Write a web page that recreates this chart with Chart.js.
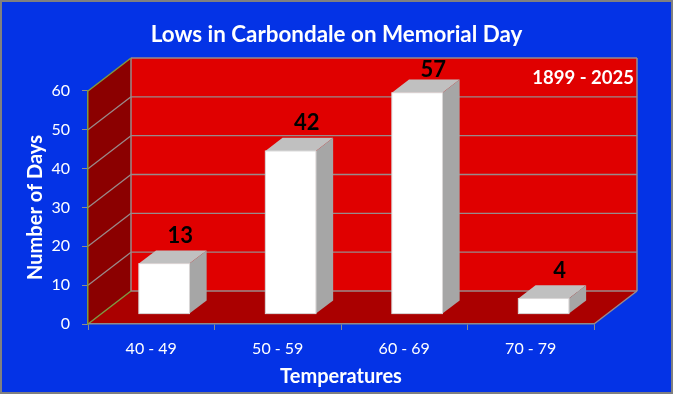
<!DOCTYPE html>
<html>
<head>
<meta charset="utf-8">
<script src="https://cdn.jsdelivr.net/npm/chart.js@4"></script>
<style>
	html, body { margin: 0; padding: 0; background: #0433e6; }
	canvas { display: block; }
</style>
</head>
<body>
<canvas id="myChartLows" width="673" height="394"></canvas>
<script>
// datos
const categories = ["40 - 49", "50 - 59", "60 - 69", "70 - 79"];
const days = [13, 42, 57, 4];
const yTicks = [0, 10, 20, 30, 40, 50, 60];
const period = "1899 - 2025";

const FONT = "Lato, 'Open Sans', sans-serif";
const DEPTH = { dx: 43, dy: -33 };   // wall depth
const BAR_FRONT = 0.3, BAR_BACK = 0.7; // bar position in depth

function poly(ctx, pts, fill) {
	ctx.beginPath();
	ctx.moveTo(pts[0][0], pts[0][1]);
	for (let i = 1; i < pts.length; i++) ctx.lineTo(pts[i][0], pts[i][1]);
	ctx.closePath();
	ctx.fillStyle = fill;
	ctx.fill();
}

function line(ctx, x1, y1, x2, y2, color, w) {
	ctx.beginPath();
	ctx.moveTo(x1, y1);
	ctx.lineTo(x2, y2);
	ctx.strokeStyle = color;
	ctx.lineWidth = w || 1;
	ctx.stroke();
}

// paredes 3d
const walls = {
	id: "walls",
	beforeDraw(chart) {
		const ctx = chart.ctx;
		const { left, right, top, bottom } = chart.chartArea;
		const { dx, dy } = DEPTH;
		const y = chart.scales.y;
		ctx.save();
		ctx.fillStyle = "#0433e6";
		ctx.fillRect(0, 0, chart.width, chart.height);

		poly(ctx, [[left, top], [left + dx, top + dy], [left + dx, bottom + dy], [left, bottom]], "#8b0000");
		poly(ctx, [[left, bottom], [left + dx, bottom + dy], [right + dx, bottom + dy], [right, bottom]], "#aa0000");
		ctx.fillStyle = "#e00000";
		ctx.fillRect(left + dx, top + dy, right - left, bottom - top);

		const grid = "#9a8a8a";
		y.ticks.forEach(t => {
			const ys = y.getPixelForValue(t.value);
			if (t.value !== yTicks[0] && t.value !== yTicks[yTicks.length - 1]) {
				line(ctx, left + dx, ys + dy, right + dx, ys + dy, grid, 1.3);
				line(ctx, left, ys, left + dx, ys + dy, grid, 1.3);
			}
		});
		// edges
		line(ctx, left + dx, top + dy, right + dx, top + dy, grid, 1.5);
		line(ctx, right + dx, top + dy, right + dx, bottom + dy, grid, 1.5);
		line(ctx, left + dx, bottom + dy, right + dx, bottom + dy, grid, 1.5);
		line(ctx, left + dx, top + dy, left + dx, bottom + dy, grid, 1.5);
		line(ctx, right, bottom, right + dx, bottom + dy, grid, 1.5);
		line(ctx, left, top, left + dx, top + dy, "#7f9a41", 1.5);
		line(ctx, left, bottom, left + dx, bottom + dy, "#7f9a41", 1.5);
		ctx.restore();
	}
};

// barras 3d + etiquetas
const bars3d = {
	id: "bars3d",
	afterDatasetsDraw(chart) {
		const ctx = chart.ctx;
		const { dx, dy } = DEPTH;
		const bx = dx * (BAR_BACK - BAR_FRONT), by = dy * (BAR_BACK - BAR_FRONT);
		const chartArea = chart.chartArea;
		ctx.save();
		chart.getDatasetMeta(0).data.forEach((el, i) => {
			const p = el.getProps(["x", "y", "base", "width"], true);
			const w = p.width;
			const fx = p.x - w / 2 + dx * BAR_FRONT;
			const ft = p.y + dy * BAR_FRONT;
			const fb = p.base + dy * BAR_FRONT;
			poly(ctx, [[fx, ft], [fx + bx, ft + by], [fx + w + bx, ft + by], [fx + w, ft]], "#c0c0c0");
			poly(ctx, [[fx + w, ft], [fx + w + bx, ft + by], [fx + w + bx, fb + by], [fx + w, fb]], "#a6a6a6");
			ctx.fillStyle = "#ffffff";
			ctx.fillRect(fx, ft, w, fb - ft);
			ctx.strokeStyle = "#d9d9d9";
			ctx.lineWidth = 1;
			ctx.strokeRect(fx, ft, w, fb - ft);

			ctx.fillStyle = "#000000";
			ctx.font = "bold 22px " + FONT;
			ctx.textAlign = "center";
			ctx.textBaseline = "middle";
			ctx.fillText(days[i], fx + w / 2 + 16, Math.max(ft - 28, chartArea.top - 21));
		});

		ctx.fillStyle = "#ffffff";
		ctx.font = "bold 18.5px " + FONT;
		ctx.textAlign = "right";
		ctx.textBaseline = "middle";
		ctx.fillText(period, chartArea.right + dx - 3, chartArea.top + dy + 20);
		ctx.restore();
	},
	afterDraw(chart) {
		const ctx = chart.ctx;
		ctx.save();
		ctx.strokeStyle = "#808080";
		ctx.lineWidth = 2;
		ctx.strokeRect(1, 1, chart.width - 2, chart.height - 2);
		ctx.restore();
	}
};

const ctxLows = document.getElementById("myChartLows");

new Chart(ctxLows, {
	type: "bar",
	data: {
		labels: categories,
		datasets: [
			{
				label: "Number of Days",
				data: days,
				backgroundColor: "rgba(0,0,0,0)",
				borderWidth: 0,
				barPercentage: 0.4,
				categoryPercentage: 1
			}
		]
	},
	options: {
		responsive: false,
		animation: false,
		layout: {
			padding: { left: 0, right: 0, top: 0, bottom: 0 }
		},
		plugins: {
			legend: { display: false },
			tooltip: { enabled: false },
			title: {
				display: true,
				text: "Lows in Carbondale on Memorial Day",
				color: "#ffffff",
				font: { family: FONT, size: 22.4, weight: "bold" },
				padding: { top: 21.6, bottom: 42.5 }
			}
		},
		scales: {
			x: {
				afterFit(scale) { scale.height = 70; },
				grid: {
					drawOnChartArea: false,
					drawTicks: true,
					tickLength: 6,
					tickColor: "#8c8c8c"
				},
				border: { display: true, color: "#8c8c8c", width: 1.5 },
				ticks: {
					color: "#ffffff",
					font: { family: FONT, size: 16 },
					padding: 9
				},
				title: {
					display: true,
					text: "Temperatures",
					color: "#ffffff",
					font: { family: FONT, size: 20, weight: "bold" },
					padding: { top: 0, bottom: 5 }
				}
			},
			y: {
				min: yTicks[0],
				max: yTicks[yTicks.length - 1],
				afterFit(scale) { scale.width = 88; },
				afterBuildTicks(scale) { scale.ticks = yTicks.map(v => ({ value: v })); },
				grid: {
					drawOnChartArea: false,
					drawTicks: true,
					tickLength: 6,
					tickColor: "#8c8c8c"
				},
				border: { display: true, color: "#7f9a41", width: 1.5 },
				ticks: {
					color: "#ffffff",
					font: { family: FONT, size: 16 },
					padding: 12
				},
				title: {
					display: true,
					text: "Number of Days",
					color: "#ffffff",
					font: { family: FONT, size: 20, weight: "bold" },
					padding: { top: 24, bottom: 0 }
				}
			},
			// espacio a la derecha para la profundidad
			yRight: {
				position: "right",
				display: true,
				afterFit(scale) { scale.width = 79; },
				grid: { display: false },
				border: { display: false },
				ticks: { display: false }
			}
		}
	},
	plugins: [walls, bars3d]
});
</script>
</body>
</html>
